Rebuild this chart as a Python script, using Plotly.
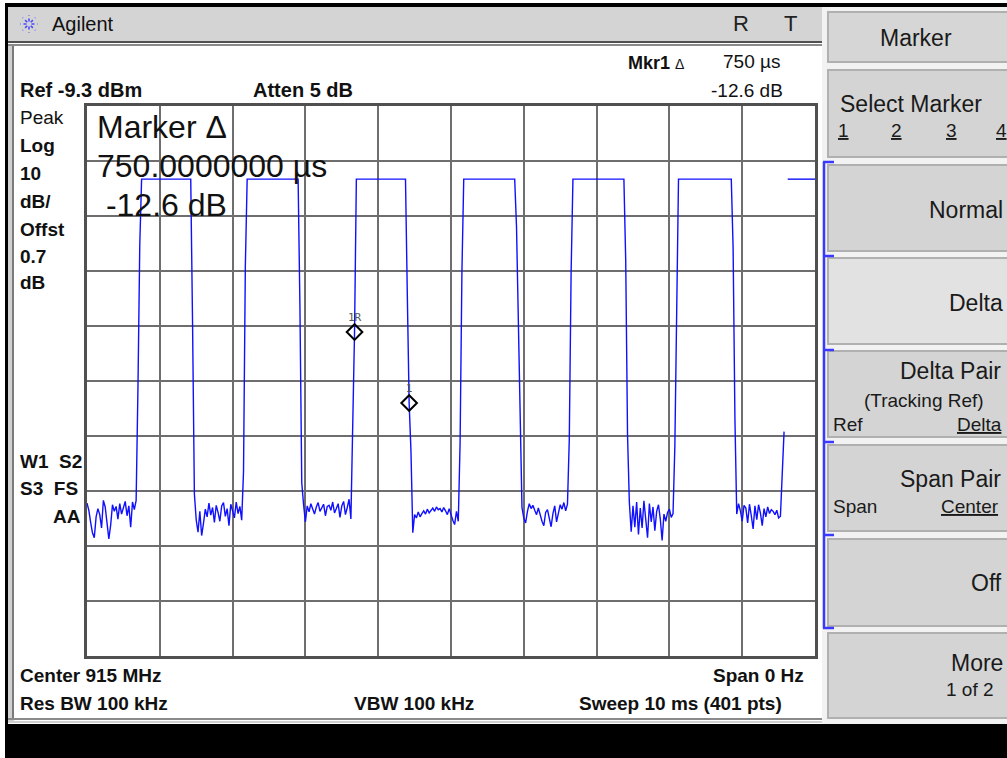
import math
import plotly.graph_objects as go

SWEEP_MS = 10.0
N_POINTS = 401
REF_LEVEL = -9.3          # dBm, top of screen
DB_PER_DIV = 10
PULSE_TOP = -22.6         # dBm

NOISE_1 = [-81.5, -82.8, -85.0, -86.9, -87.8, -84.0, -82.5, -83.6, -86.0, -81.0,
           -82.2, -84.7, -88.0, -85.5, -81.8, -83.0, -82.1, -84.4, -81.6, -83.5,
           -82.4, -81.2, -83.8, -82.0, -85.9, -81.3, -82.7, -81.0]
NOISE_2 = [-79.8, -84.5, -86.8, -83.0, -87.4, -85.2, -82.6, -84.0, -81.5, -83.7,
           -82.3, -85.0, -81.9, -83.2, -84.8, -82.0, -81.4, -83.9, -82.5, -85.6,
           -81.7, -82.9, -84.2, -81.3, -83.4, -82.1, -84.6]
NOISE_3 = [-81.8, -84.9, -82.0, -83.1, -81.6, -82.7, -83.5, -82.2, -81.4, -83.0,
           -82.4, -81.7, -83.8, -82.1, -81.9, -82.8, -81.3, -83.3, -82.5, -81.6,
           -84.1, -82.0, -81.2, -83.6, -82.3, -80.8, -84.4]
NOISE_4 = [-86.9, -83.6, -84.2, -83.1, -84.0, -83.4, -82.9, -83.5, -82.6, -83.3,
           -82.8, -82.4, -83.0, -82.2, -82.7, -82.5, -83.1, -82.3, -82.9, -83.6,
           -82.5, -83.8, -84.6, -85.4, -83.0, -84.8]
NOISE_5 = [-82.3, -84.2, -85.1, -83.0, -81.6, -82.5, -81.9, -82.8, -83.6, -82.4,
           -83.9, -84.8, -85.6, -83.2, -82.7, -84.5, -85.8, -83.4, -82.0, -84.9,
           -83.1, -81.8, -82.6, -81.4, -82.9, -81.7]
NOISE_6 = [-81.4, -86.7, -82.0, -85.9, -81.3, -87.2, -82.4, -86.0, -81.1, -85.3,
           -87.8, -81.6, -84.9, -82.2, -86.5, -83.0, -81.8, -84.4, -88.3, -83.5,
           -84.8, -83.2, -82.6, -84.1, -83.4]
NOISE_7 = [-83.5, -81.6, -82.9, -84.8, -81.9, -82.4, -85.1, -81.7, -83.8, -86.2,
           -82.0, -84.5, -81.8, -83.3, -85.6, -82.5, -84.0, -82.2, -83.4, -82.7,
           -83.0, -83.6, -82.8, -84.2, -83.9]

RISES = [[-60.5, -34.5], [-75.8, -38.4], [-68.3, -50.4], [-70.5, -39.5],
         [-69.8, -39.5], [-71.1, -40.6], [-76.4, -68.5]]
TOP_LENGTHS = [28, 29, 28, 29, 29, 30, 16]
FALLS = [[-48.9], [-45.9, -77.8], [-43.7, -63.3, -72.0], [-31.3, -48.7, -69.9],
         [-37.5, -69.2], [-35.0, -66.1]]
NOISES = [NOISE_1, NOISE_2, NOISE_3, NOISE_4, NOISE_5, NOISE_6, NOISE_7]

MKR_REF_IDX = 147      # marker 1R
MKR_DELTA_IDX = 177    # marker 1 (delta, +750 us)

# assemble the sweep (last pulse: sweep in progress, gap, then old trace)
trace = []
for k in range(7):
    trace += NOISES[k] + RISES[k]
    if k < 6:
        trace += [PULSE_TOP] * TOP_LENGTHS[k] + FALLS[k]
    else:
        trace += [None] + [PULSE_TOP] * TOP_LENGTHS[k]
t_ms = [i * SWEEP_MS / (N_POINTS - 1) for i in range(len(trace))]

# ---------------- geometry helpers (chrome only) ----------------
W, H = 1007, 758
L, R, T, B = 87, 815, 106, 656
PW, PH = R - L, B - T
FONT = "Liberation Sans, Arial, sans-serif"


def fx(px):
    return (px - L) / PW


def fy(py):
    return (B - py) / PH


def rect(x0, y0, x1, y1, fill, line=None, lw=0):
    return dict(type="rect", xref="paper", yref="paper",
                x0=fx(x0), x1=fx(x1), y0=fy(y1), y1=fy(y0),
                fillcolor=fill, line=dict(color=line or fill, width=lw),
                layer="above")


def seg(x0, y0, x1, y1, color, w=1, dash=None):
    d = dict(type="line", xref="paper", yref="paper",
             x0=fx(x0), x1=fx(x1), y0=fy(y0), y1=fy(y1),
             line=dict(color=color, width=w), layer="above")
    if dash:
        d["line"]["dash"] = dash
    return d


def lab(text, x, y, size=19, bold=False, anchor="left", color="#111111"):
    return dict(text=f"<b>{text}</b>" if bold else text,
                x=fx(x), y=fy(y), xref="paper", yref="paper",
                xanchor=anchor, yanchor="middle", showarrow=False,
                font=dict(size=size, color=color, family=FONT))


fig = go.Figure()
fig.add_trace(go.Scatter(x=t_ms, y=trace, mode="lines",
                         line=dict(color="#1010ff", width=1.4),
                         connectgaps=False, hoverinfo="skip"))
fig.add_trace(go.Scatter(
    x=[t_ms[MKR_REF_IDX], t_ms[MKR_DELTA_IDX]],
    y=[trace[MKR_REF_IDX], trace[MKR_DELTA_IDX]],
    mode="markers+text", text=["1R", "1"], textposition="top center",
    textfont=dict(size=11, color="#555555", family="DejaVu Sans Mono"),
    marker=dict(symbol="diamond-open", size=12, color="black",
                line=dict(width=2, color="black")),
    hoverinfo="skip"))

shapes = []
# outer frame
shapes.append(rect(5, 3, 1007, 7, "#000000"))
shapes.append(rect(5, 3, 8, 758, "#000000"))
shapes.append(rect(8, 7, 822, 41, "#d4d4d4"))
shapes.append(rect(8, 41, 822, 43, "#505050"))
shapes.append(rect(8, 44, 822, 46, "#8a8a8a"))
shapes.append(rect(8, 46, 14, 722, "#d0d0d0"))
shapes.append(rect(12, 46, 14, 720, "#7a7a7a"))
shapes.append(rect(8, 718, 822, 720, "#8a8a8a"))
shapes.append(rect(8, 721, 822, 723, "#d0d0d0"))
shapes.append(rect(8, 724, 1007, 758, "#000000"))
# softkey panel
shapes.append(rect(822, 7, 1007, 724, "#f2f2f2"))
buttons = [(12, 62, "#d6d6d6"), (70, 157, "#d4d4d4"), (165, 251, "#d4d4d4"),
           (258, 344, "#e2e2e2"), (351, 437, "#d4d4d4"), (445, 531, "#d4d4d4"),
           (539, 626, "#d4d4d4"), (633, 718, "#d4d4d4")]
for y0, y1, c in buttons:
    shapes.append(rect(828, y0, 1012, y1, c, "#b0b0b0", 2))
# blue brackets
shapes.append(seg(824, 162, 824, 628, "#3a3aff", 2.5))
for yy in [162, 256, 350, 442, 535, 628]:
    shapes.append(seg(823, yy, 834, yy, "#3a3aff", 2.5))
# Agilent spark logo
for k in range(8):
    a = k * math.pi / 4
    shapes.append(seg(29 + 2.5 * math.cos(a), 24 + 2.5 * math.sin(a),
                      29 + 9 * math.cos(a), 24 + 9 * math.sin(a),
                      "#4a4aff", 1.6, "dot"))

ann = []
ann.append(lab("Agilent", 50, 24, 20))
ann.append(lab("R", 741, 24, 22, anchor="center", color="#222222"))
ann.append(lab("T", 790, 24, 22, anchor="center", color="#222222"))
# header
ann.append(lab("<b>Mkr1</b> <span style='font-size:14px'>Δ</span>", 626, 63, 18))
ann.append(lab("750 µs", 782, 62, 19, anchor="right"))
ann.append(lab("-12.6 dB", 785, 90, 19, anchor="right"))
ann.append(lab("Ref -9.3 dBm", 18, 90, 20, bold=True))
ann.append(lab("Atten 5 dB", 251, 90, 20, bold=True))
# left column
ann.append(lab("Peak", 18, 117, 19))
for txt, yy in [("Log", 145), ("10", 173), ("dB/", 201), ("Offst", 229),
                ("0.7", 256), ("dB", 282)]:
    ann.append(lab(txt, 18, yy, 19, bold=True))
ann.append(lab("W1  S2", 18, 461, 19, bold=True))
ann.append(lab("S3  FS", 18, 488, 19, bold=True))
ann.append(lab("AA", 83, 516, 19, bold=True, anchor="right"))
# big marker readout
ann.append(lab("Marker Δ", 95, 127, 32))
ann.append(lab("750.0000000 µs", 95, 166, 32))
ann.append(lab(" -12.6 dB", 95, 205, 32))
# bottom
ann.append(lab("Center 915 MHz", 18, 675, 19, bold=True))
ann.append(lab("Span 0 Hz", 806, 675, 19, bold=True, anchor="right"))
ann.append(lab("Res BW 100 kHz", 18, 703, 19, bold=True))
ann.append(lab("VBW 100 kHz", 414, 703, 19, bold=True, anchor="center"))
ann.append(lab("Sweep 10 ms (401 pts)", 784, 703, 19, bold=True, anchor="right"))
# softkeys
SK = "#1a1a1a"
ann.append(lab("Marker", 916, 38, 23, anchor="center", color=SK))
ann.append(lab("Select Marker", 838, 104, 23, color=SK))
for txt, xx in [("1", 836), ("2", 889), ("3", 944), ("4", 994)]:
    ann.append(lab(f"<u>{txt}</u>", xx, 131, 19, color=SK))
ann.append(lab("Normal", 1005, 210, 23, anchor="right", color=SK))
ann.append(lab("Delta", 1005, 303, 23, anchor="right", color=SK))
ann.append(lab("Delta Pair", 1003, 371, 23, anchor="right", color=SK))
ann.append(lab("(Tracking Ref)", 924, 400, 19, anchor="center", color=SK))
ann.append(lab("Ref", 831, 424, 19, color=SK))
ann.append(lab("<u>Delta</u>", 1004, 424, 19, anchor="right", color=SK))
ann.append(lab("Span Pair", 1003, 479, 23, anchor="right", color=SK))
ann.append(lab("Span", 831, 506, 19, color=SK))
ann.append(lab("<u>Center</u>", 1001, 506, 19, anchor="right", color=SK))
ann.append(lab("Off", 1004, 583, 23, anchor="right", color=SK))
ann.append(lab("More", 1005, 663, 23, anchor="right", color=SK))
ann.append(lab("1 of 2", 996, 689, 19, anchor="right", color=SK))

axis_common = dict(showticklabels=False, ticks="", zeroline=False,
                   showline=True, mirror=True, linecolor="#505050",
                   linewidth=3, showgrid=True, gridcolor="#6e6e6e",
                   gridwidth=2, fixedrange=True)
fig.update_layout(
    width=W, height=H,
    margin=dict(l=L, r=W - R, t=T, b=H - B, pad=0),
    paper_bgcolor="white", plot_bgcolor="white",
    showlegend=False,
    xaxis=dict(range=[0, SWEEP_MS], tick0=0, dtick=SWEEP_MS / 10, **axis_common),
    yaxis=dict(range=[REF_LEVEL - 10 * DB_PER_DIV, REF_LEVEL], tick0=REF_LEVEL,
               dtick=DB_PER_DIV, **axis_common),
    shapes=shapes, annotations=ann,
    font=dict(family=FONT),
)
fig.write_html("out.html", config={"displayModeBar": False},
               post_script="document.body.style.margin='0';"
                           "document.body.style.overflow='hidden';")
